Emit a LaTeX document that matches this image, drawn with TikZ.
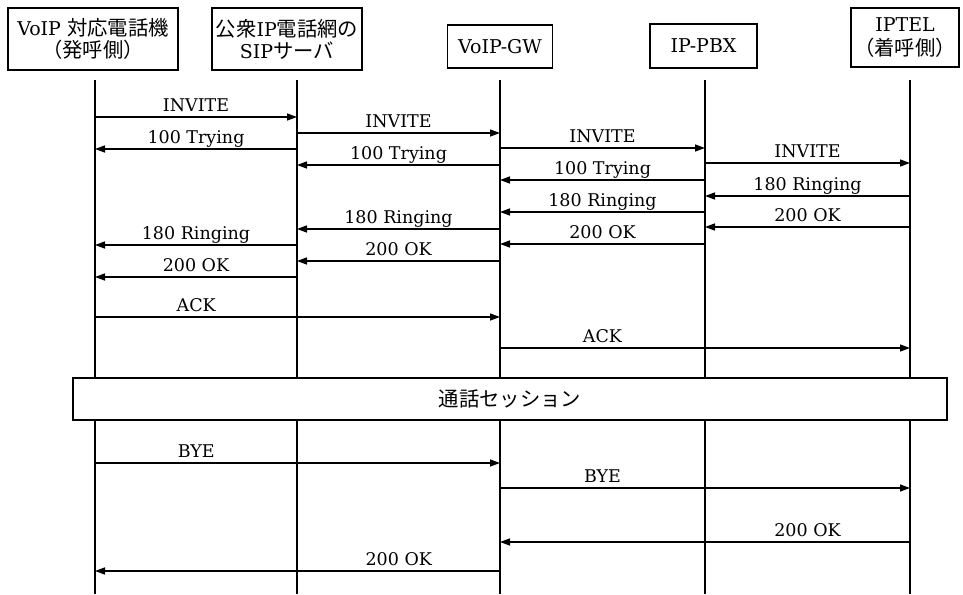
\documentclass[tikz,border=0pt]{standalone}
\usepackage{fontspec}
\setmainfont{DejaVu Serif}
\newfontfamily\jpfont[Scale=1.07]{Noto Sans CJK JP}
\usepackage{tikz}
\usetikzlibrary{positioning, arrows.meta, calc}

\begin{document}
\begin{tikzpicture}[
  x=1pt, y=-1pt,
  entity/.style={draw, line width=1.4pt, align=center, inner sep=2pt,
    font=\fontsize{19}{22}\selectfont},
  life/.style={line width=1.2pt},
  msg/.style={line width=1.4pt, -{Triangle[length=10pt, width=7pt]}},
  lbl/.style={anchor=base, yshift=6pt, inner sep=0pt,
    font=\fontsize{17.5}{20}\selectfont},
]
\useasboundingbox (0,0) rectangle (963,594);

% Header
\node[entity, minimum width=170pt, minimum height=62pt] (phone) at (93,39)
  {VoIP {\jpfont 対応電話機}\\{\jpfont （発呼側）}};
\node[entity, minimum width=150pt, minimum height=62pt] (sip) at (287,39)
  {{\jpfont 公衆}IP{\jpfont 電話網の}\\SIP{\jpfont サーバ}};
\node[entity, minimum width=105pt, minimum height=43pt] (gw) at (500,46.5) {VoIP-GW};
\node[entity, minimum width=107pt, minimum height=44pt] (pbx) at (703.5,46) {IP-PBX};
\node[entity, minimum width=108pt, minimum height=59pt,
  font=\fontsize{19}{24}\selectfont] (iptel) at (905,37.5)
  {IPTEL\\{\jpfont （着呼側）}};

% Lifelines
\foreach \i/\x in {1/95, 2/297, 3/500, 4/705, 5/910} {
  \coordinate (L\i) at (\x,80);
  \coordinate (E\i) at (\x,594);
  \draw[life] (L\i) -- (E\i);
}

% Messages
\foreach \a/\b/\y/\p/\txt [count=\i] in {
    1/2/117/.5/INVITE, 2/1/149/.5/100 Trying,
    2/3/133/.5/INVITE, 3/2/165/.5/100 Trying,
    3/4/148/.5/INVITE, 4/3/180/.5/100 Trying,
    4/5/163/.5/INVITE, 5/4/196/.5/180 Ringing,
    4/3/212/.5/180 Ringing, 5/4/227/.5/200 OK,
    3/2/229/.5/180 Ringing, 4/3/244/.5/200 OK,
    2/1/245/.5/180 Ringing, 3/2/261/.5/200 OK,
    2/1/277/.5/200 OK,
    1/3/317/.25/ACK, 3/5/348/.25/ACK,
    1/3/463/.25/BYE, 3/5/488/.25/BYE,
    5/3/542/.25/200 OK, 3/1/571/.25/200 OK} {
  \draw[msg] (L\a |- 0,\y) -- node[lbl, pos=\p] (m\i) {\txt} (L\b |- 0,\y);
}

% Session
\node[draw, line width=1.4pt, fill=white, minimum width=874pt, minimum height=42pt,
  font=\fontsize{19}{22}\selectfont\jpfont] (session) at (510,399) {通話セッション};

\end{tikzpicture}
\end{document}
